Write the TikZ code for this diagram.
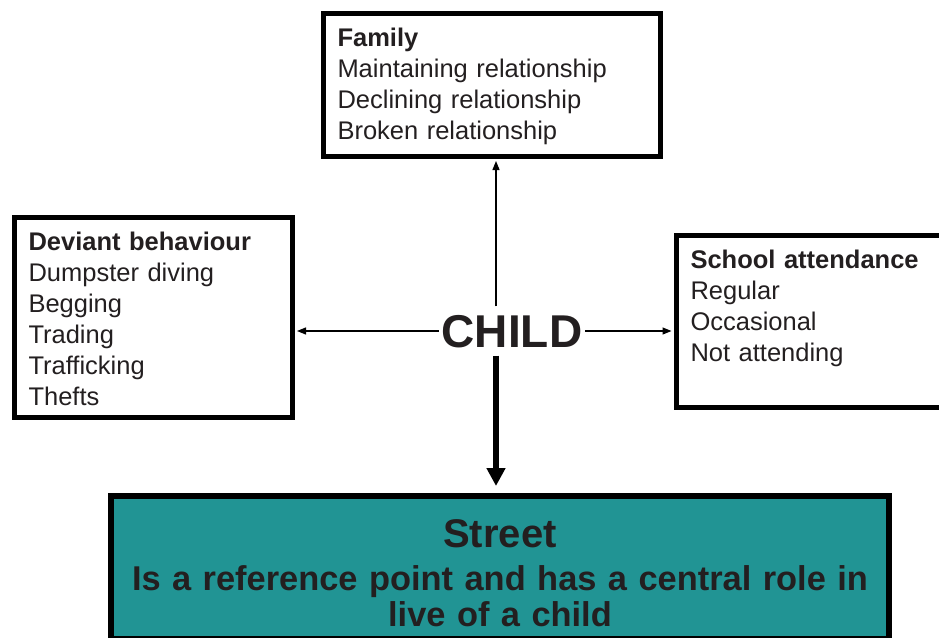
\documentclass[tikz,border=0pt]{standalone}
\usepackage{fontspec}
\setmainfont{Liberation Sans}
\usetikzlibrary{arrows.meta,positioning}
\definecolor{vtext}{RGB}{35,31,32}
\definecolor{vteal}{RGB}{33,148,148}

\begin{document}
\begin{tikzpicture}[
  x=1pt, y=1pt, text=vtext,
  box/.style={draw, line width=5pt, anchor=north west, align=left,
    inner xsep=14pt, inner ysep=15pt, text height=18pt,
    font=\fontsize{25.5}{31}\selectfont},
  link/.style={-{Triangle[length=9pt,width=7pt]}, line width=1.2pt, shorten >=2.5pt}
]
\useasboundingbox (0,0) rectangle (939,-637);
\node[box, text width=309pt, text depth=94.5pt] (family) at (321,-11)
  {\textbf{Family}\\Maintaining relationship\\Declining relationship\\Broken relationship};
\node[box, text width=249.5pt, text depth=152pt] (deviant) at (12,-215)
  {\textbf{Deviant behaviour}\\Dumpster diving\\Begging\\Trading\\Trafficking\\Thefts};
\node[box, text width=241.5pt, text depth=124pt] (school) at (674,-232.5)
  {\textbf{School attendance}\\Regular\\Occasional\\Not attending};
\node[font=\bfseries\fontsize{46}{46}\selectfont, inner xsep=3pt, inner ysep=8pt,
  text height=33pt, text depth=0pt] (child) at (512,-331) {CHILD};
\node[draw, line width=6pt, fill=vteal, anchor=north, align=center, text width=760pt,
  inner xsep=9pt, inner ysep=22pt, text height=29pt, text depth=69.5pt,
  font=\bfseries\fontsize{34.4}{36}\selectfont] (street) at (500,-493)
  {{\fontsize{40}{40}\selectfont Street}\\[7pt]Is a reference point and has a central role in\\live of a child};
\coordinate (hub) at (496,-331);
\draw[link] (child.west) -- (child.west -| deviant.east);
\draw[link] (child.east) -- (child.east -| school.west);
\draw[link] (hub |- child.north) -- (hub |- family.south);
\draw[-{Triangle[length=18pt,width=18pt]}, line width=6pt, shorten >=7pt] (hub |- child.south) -- (hub |- street.north);
\end{tikzpicture}
\end{document}
